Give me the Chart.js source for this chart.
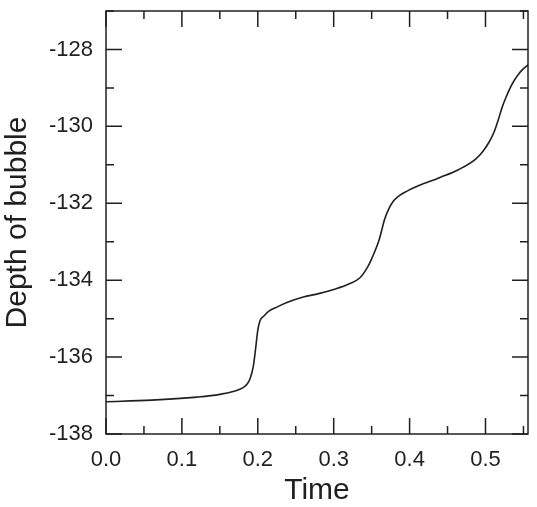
<!DOCTYPE html>
<html>
<head>
<meta charset="utf-8">
<script src="https://cdn.jsdelivr.net/npm/chart.js@4/dist/chart.umd.min.js"></script>
<style>
  html, body { margin: 0; padding: 0; background: #fff; }
  #wrap { width: 537px; height: 507px; }
</style>
</head>
<body>
<div id="wrap"><canvas id="chart" width="537" height="507"></canvas></div>
<script>
// values
const times = [0.0, 0.06, 0.12, 0.15, 0.17, 0.18, 0.186, 0.19, 0.194, 0.197, 0.2, 0.203, 0.208,
  0.215, 0.225, 0.24, 0.26, 0.28, 0.3, 0.32, 0.335, 0.345, 0.351, 0.36, 0.367, 0.372, 0.378,
  0.386, 0.396, 0.41, 0.44, 0.465, 0.487, 0.497, 0.505, 0.511, 0.517, 0.522, 0.528, 0.533,
  0.538, 0.544, 0.55, 0.556];
const depths = [-137.16, -137.12, -137.04, -136.97, -136.88, -136.8, -136.7, -136.55, -136.25,
  -135.8, -135.3, -135.05, -134.93, -134.8, -134.7, -134.57, -134.44, -134.35, -134.24, -134.1,
  -133.93, -133.65, -133.4, -132.94, -132.42, -132.17, -131.96, -131.81, -131.69, -131.56,
  -131.33, -131.12, -130.85, -130.64, -130.4, -130.16, -129.82, -129.5, -129.2, -128.98,
  -128.8, -128.63, -128.5, -128.4];

const xMajor = [0, 0.1, 0.2, 0.3, 0.4, 0.5];
const xMinor = [0.05, 0.15, 0.25, 0.35, 0.45, 0.55];
const yMajor = [-138, -136, -134, -132, -130, -128];
const yMinor = [-137, -135, -133, -131, -129, -127];

const ink = '#231f20';
const font = 'Liberation Sans, Arial, Helvetica, sans-serif';

// frame + inward tick marks on all four sides
const frameTicks = {
  id: 'frameTicks',
  afterDraw(chart) {
    const { ctx, chartArea: a, scales } = chart;
    const xs = scales.x, ys = scales.y;
    ctx.save();
    ctx.strokeStyle = ink;
    ctx.lineWidth = 1.5;
    ctx.strokeRect(a.left, a.top, a.right - a.left, a.bottom - a.top);
    ctx.beginPath();
    const xt = (vals, len) => vals.forEach(v => {
      const px = xs.getPixelForValue(v);
      ctx.moveTo(px, a.bottom); ctx.lineTo(px, a.bottom - len);
      ctx.moveTo(px, a.top); ctx.lineTo(px, a.top + len);
    });
    const yt = (vals, len) => vals.forEach(v => {
      const py = ys.getPixelForValue(v);
      ctx.moveTo(a.left, py); ctx.lineTo(a.left + len, py);
      ctx.moveTo(a.right, py); ctx.lineTo(a.right - len, py);
    });
    xt(xMajor, 16); xt(xMinor, 8);
    yt(yMajor, 16); yt(yMinor, 8);
    ctx.stroke();
    ctx.restore();
  }
};

new Chart(document.getElementById('chart'), {
  type: 'scatter',
  data: {
    datasets: [{
      data: times.map((t, i) => ({ x: t, y: depths[i] })),
      showLine: true,
      borderColor: ink,
      borderWidth: 1.6,
      pointRadius: 0,
      cubicInterpolationMode: 'monotone',
      fill: false
    }]
  },
  options: {
    responsive: false,
    animation: false,
    layout: { padding: { top: 11, right: 9, left: 0, bottom: 0 } },
    plugins: { legend: { display: false }, tooltip: { enabled: false } },
    scales: {
      x: {
        type: 'linear',
        min: 0, max: 0.556,
        grid: { display: false, drawTicks: false },
        border: { display: false },
        ticks: {
          stepSize: 0.1, includeBounds: false, padding: 13,
          color: ink, font: { family: font, size: 22 },
          callback: v => v.toFixed(1)
        },
        title: { display: true, text: 'Time', color: ink, font: { family: font, size: 30 }, padding: { top: 0, bottom: -2 } },
        afterFit(s) { s.height = 73; s.paddingLeft = 0; s.paddingRight = 0; }
      },
      y: {
        type: 'linear',
        min: -138, max: -127,
        grid: { display: false, drawTicks: false },
        border: { display: false },
        ticks: {
          stepSize: 2, includeBounds: false, padding: 13,
          color: ink, font: { family: font, size: 22 },
          callback: v => String(v)
        },
        title: { display: true, text: 'Depth of bubble', color: ink, font: { family: font, size: 30 }, padding: 0 },
        afterFit(s) { s.width = 106; s.paddingTop = 0; s.paddingBottom = 0; }
      }
    }
  },
  plugins: [frameTicks]
});
</script>
</body>
</html>
